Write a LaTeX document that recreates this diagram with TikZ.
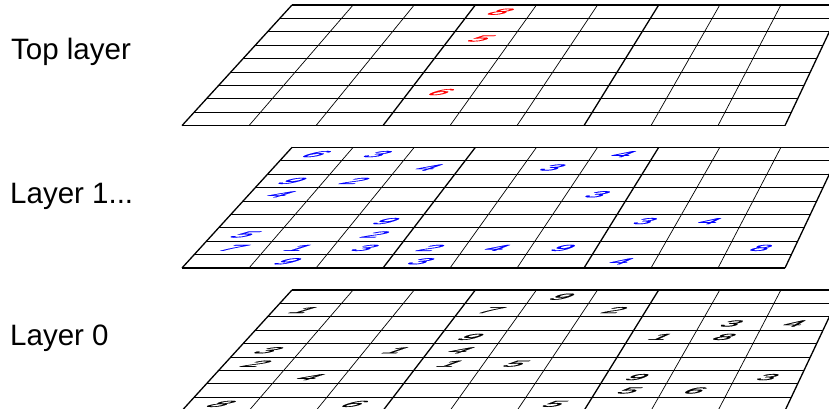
\documentclass[tikz,border=0pt]{standalone}
\usepackage{fontspec}
\setmainfont{Liberation Sans}
\newfontfamily\digitfont[FakeBold=0.8]{Liberation Sans}

% one 9x9 board seen in perspective, #1 = y of its top edge
\newcommand{\boardlayer}[1]{%
  \foreach \i in {0,...,9}{%
    \pgfmathsetmacro\yy{#1-\i*13.4}
    \pgfmathsetmacro\xl{292-110*\i/9}
    \pgfmathsetmacro\xr{842-57*\i/9}
    \pgfmathtruncatemacro\m{mod(\i,3)}
    \ifnum\m=0 \draw[blockline] (\xl,\yy) -- (\xr,\yy);
    \else \draw[cellline] (\xl,\yy) -- (\xr,\yy); \fi
  }
  \foreach \j in {0,...,9}{%
    \pgfmathsetmacro\xt{292+\j*550/9}
    \pgfmathsetmacro\xb{182+\j*603/9}
    \pgfmathsetmacro\yb{#1-120.6}
    \pgfmathtruncatemacro\m{mod(\j,3)}
    \ifnum\m=0 \draw[blockline] (\xt,#1) -- (\xb,\yb);
    \else \draw[cellline] (\xt,#1) -- (\xb,\yb); \fi
  }
}

% digits: #1 = top edge, #2 = name prefix, #3 = colour, #4 = row/col/value list
\newcommand{\boarddigits}[4]{%
  \foreach \r/\c/\v in {#4}{%
    \pgfmathsetmacro\t{(\r+0.5)/9}
    \pgfmathsetmacro\yy{#1-(\r+0.5)*13.4}
    \pgfmathsetmacro\xl{292-110*\t}
    \pgfmathsetmacro\xr{842-57*\t}
    \pgfmathsetmacro\xx{\xl+(\c+0.5)*(\xr-\xl)/9}
    \pgfmathsetmacro\sl{(110-(\c+0.5)*53/9)/120.6}
    \node[digit, text=#3, xslant=\sl] (#2-\r-\c) at (\xx,\yy) {\v};
  }
}

\begin{document}
\begin{tikzpicture}[x=1pt, y=1pt,
    cellline/.style={line width=0.7pt},
    blockline/.style={line width=1.3pt},
    digit/.style={inner sep=0pt, xscale=2.05, yscale=0.55,
      font=\digitfont\fontsize{16}{16}\selectfont},
    lbl/.style={inner sep=0pt, anchor=base west,
      font=\fontsize{29.5}{32}\selectfont}]

  \useasboundingbox (0,0) rectangle (829,409);
  \clip (0,0) rectangle (829,409);

  % labels
  \node[lbl] (toplbl) at (11,349) {Top layer};
  \node[lbl] (lbl1) at (10,205) {Layer 1...};
  \node[lbl] (lbl0) at (10,63) {Layer 0};

  % top layer
  \boardlayer{404}
  \boarddigits{404}{top}{red}{0/3/8, 2/3/5, 6/3/6}

  % layer 1
  \boardlayer{261.6}
  \boarddigits{261.6}{one}{blue}{0/0/6, 0/1/3, 0/5/4, 1/2/4, 1/4/3,
    2/0/9, 2/1/2, 3/0/4, 3/5/3, 5/2/9, 5/6/3, 5/7/4, 6/0/5, 6/2/2,
    7/0/7, 7/1/1, 7/2/3, 7/3/2, 7/4/4, 7/5/9, 7/8/8, 8/1/9, 8/3/3, 8/6/4}

  % layer 0
  \boardlayer{119}
  \boarddigits{119}{zero}{black}{0/4/9, 1/0/1, 1/3/7, 1/5/2, 2/7/3, 2/8/4,
    3/3/9, 3/6/1, 3/7/8, 4/0/3, 4/2/1, 4/3/4, 5/0/2, 5/3/1, 5/4/5,
    6/1/4, 6/6/9, 6/8/3, 7/6/5, 7/7/6, 8/0/8, 8/2/6, 8/5/5}

\end{tikzpicture}
\end{document}
